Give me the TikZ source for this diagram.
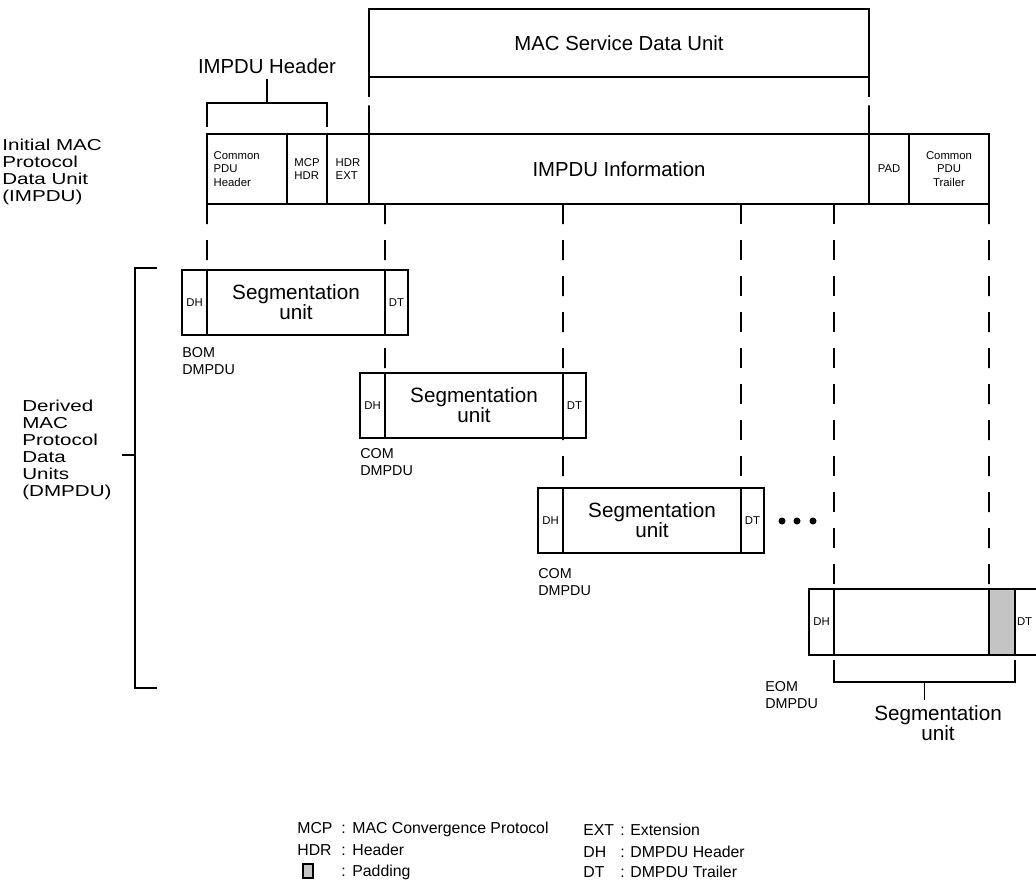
\documentclass[tikz,border=0pt]{standalone}
\usepackage{fontspec}
\setmainfont{Liberation Sans}
\newfontfamily\widesans{Liberation Sans}[FakeStretch=1.3]
\usetikzlibrary{positioning}
\definecolor{padgrey}{HTML}{C4C4C4}

\tikzset{
  cell/.style={draw,line width=1.1pt,inner sep=0pt,outer sep=0pt},
  rowcell/.style={cell,minimum height=42pt},
  guide/.style={line width=1pt,dash pattern=on 12pt off 9.6pt},
  sduguide/.style={line width=1pt,dash pattern=on 12pt off 5pt on 18pt off 4pt},
  brk/.style={line width=0.9pt},
  cellfont/.style={font=\fontsize{6.8}{8.2}\selectfont},
  dhfont/.style={font=\fontsize{6.8}{8}\selectfont},
  bigfont/.style={font=\fontsize{12.2}{14}\selectfont},
  segfont/.style={font=\fontsize{12.4}{12}\selectfont,align=center},
  side/.style={font=\widesans\fontsize{9.5}{10.2}\selectfont,align=left,anchor=west,inner sep=0pt},
  tag/.style={font=\fontsize{8.6}{10.2}\selectfont,align=left,inner sep=0pt},
  key/.style={font=\fontsize{9.5}{12}\selectfont,anchor=base west,inner sep=0pt},
}

\begin{document}
\begin{tikzpicture}[x=0.6pt,y=-0.6pt]
  \useasboundingbox (0,0) rectangle (1036,881);

  % service data unit and initial PDU
  \node[cell,bigfont,minimum width=300pt,minimum height=40.8pt,anchor=north west] (msdu) at (369,9) {MAC Service Data Unit};
  \node[rowcell,cellfont,minimum width=48pt,align=left,text width=40pt,anchor=north west] (cph) at (207,134) {Common\\PDU\\Header};
  \node[rowcell,cellfont,minimum width=24pt,align=left,right=0pt of cph] (mcp) {MCP\\HDR};
  \node[rowcell,cellfont,minimum width=25.2pt,align=left,right=0pt of mcp] (hext) {HDR\\EXT};
  \node[rowcell,bigfont,minimum width=300pt,right=0pt of hext] (info) {IMPDU Information};
  \node[rowcell,cellfont,minimum width=24pt,right=0pt of info] (pad) {PAD};
  \node[rowcell,cellfont,minimum width=48pt,align=center,right=0pt of pad] (trl) {Common\\PDU\\Trailer};

  \node[bigfont] (hdr) at (267,66) {IMPDU Header};
  \coordinate (hb-l) at (207,127);
  \coordinate (hb-r) at (327,127);
  \coordinate (hb-m) at (267,103);
  \draw[brk] (hb-l) |- (hb-m) -| (hb-r);
  \draw[brk] (hb-m) -- (hdr);

  \node[side] (impdu-lab) at (2,171.5) {Initial MAC\\Protocol\\Data Unit\\(IMPDU)};

  % derived PDUs
  \foreach \n/\x/\y/\kind/\gap in {bom/182/270/BOM/7pt, com/360/373/COM/6pt, cont/538/488/COM/9pt}{
    \node[cell,dhfont,minimum width=15pt,minimum height=39pt,anchor=north west] (\n-dh) at (\x,\y) {DH};
    \node[cell,segfont,minimum width=106.8pt,minimum height=39pt,right=0pt of \n-dh] (\n-su) {Segmentation\\unit};
    \node[cell,dhfont,minimum width=13.8pt,minimum height=39pt,right=0pt of \n-su] (\n-dt) {DT};
    \node[tag,below=\gap of \n-dh.south west,anchor=north west] (\n-tag) {\kind\\DMPDU};
  }

  \node[cell,dhfont,minimum width=15pt,minimum height=39.6pt,anchor=north west] (eom-dh) at (809,589) {DH};
  \node[cell,minimum width=93pt,minimum height=39.6pt,right=0pt of eom-dh] (eom-body) {};
  \node[cell,fill=padgrey,minimum width=15.6pt,minimum height=39.6pt,right=0pt of eom-body] (eom-pad) {};
  \node[cell,minimum width=27pt,minimum height=39.6pt,right=0pt of eom-pad] (eom-dt) {};
  \node[dhfont,anchor=west,inner sep=1pt] (eom-dtl) at (eom-dt.west) {DT};
  \node[tag,anchor=north west] (eom-tag) at (765,681) {EOM\\DMPDU};

  \foreach \d in {782,797,813}
    \fill (\d,521) circle (2.1pt);

  % guide lines
  \draw[sduguide] (msdu.south west) -- (info.north west);
  \draw[sduguide] (msdu.south east) -- (info.north east);
  \draw[guide] (cph.south west) -- (bom-dh.north east);
  \draw[guide] (bom-dt.north west |- info.south) -- (com-dh.north east);
  \draw[guide] (com-dt.north west |- info.south) -- (cont-dh.north east);
  \draw[guide] (cont-dt.north west |- info.south) -- (cont-dt.north west);
  \draw[guide] (eom-dh.north east |- info.south) -- (eom-dh.north east);
  \draw[guide] (trl.south east) -- (eom-pad.north west);

  % brackets
  \coordinate (eb-l) at (834,660);
  \coordinate (eb-r) at (1015,660);
  \coordinate (eb-m) at (924.5,682);
  \draw[brk] (eb-l) |- (eb-m) -| (eb-r);
  \node[segfont,anchor=north] (eom-su) at (938,700) {Segmentation\\unit};
  \draw[brk] (eb-m) -- (eb-m |- eom-su.north);

  \node[side] (dmpdu-lab) at (22,449.5) {Derived\\MAC\\Protocol\\Data\\Units\\(DMPDU)};
  \coordinate (db-top) at (157,268);
  \coordinate (db-bot) at (157,688);
  \coordinate (db-tick) at (122,455);
  \draw[brk] (db-top) -- (135,268) -- (135,688) -- (db-bot);
  \draw[brk] (135,455) -- (db-tick);

  % legend
  \foreach \n/\abbr/\what/\x/\cx/\tx/\y in {
      mcp/MCP/MAC Convergence Protocol/297/341/352/833,
      hdr/HDR/Header/297/341/352/855,
      ext/EXT/Extension/583/620/630/835,
      dh/DH/DMPDU Header/583/620/630/857,
      dt/DT/DMPDU Trailer/583/620/630/877}
  {
    \node[key] (key-\n) at (\x,\y) {\abbr};
    \node[key] (key-\n-c) at (\cx,\y) {:};
    \node[key] (key-\n-t) at (\tx,\y) {\what};
  }
  \node[cell,fill=padgrey,line width=0.8pt,minimum width=6pt,minimum height=8.4pt] (key-pad) at (308,871) {};
  \node[key] (key-pad-c) at (341,876) {:};
  \node[key] (key-pad-t) at (352,876) {Padding};
\end{tikzpicture}
\end{document}
